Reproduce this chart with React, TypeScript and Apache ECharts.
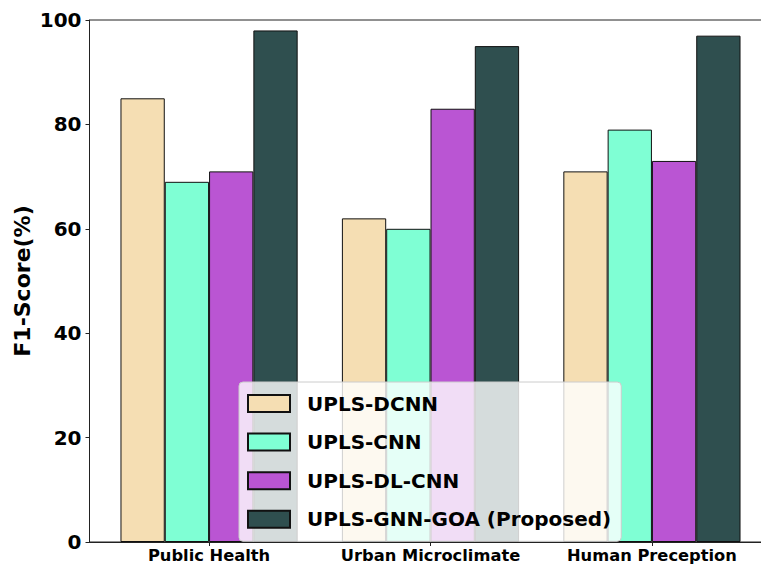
import React, { useEffect, useRef } from "react";
import * as echarts from "echarts";

const categories = ["Public Health", "Urban Microclimate", "Human Preception"];
const seriesNames = ["UPLS-DCNN", "UPLS-CNN", "UPLS-DL-CNN", "UPLS-GNN-GOA (Proposed)"];
const dcnn = [85, 62, 71];
const cnn = [69, 60, 79];
const dlcnn = [71, 83, 73];
const gnnGoa = [98, 95, 97];
const colors = ["#F5DEB3", "#7FFFD4", "#BA55D3", "#2F4F4F"];
const yTicks = [0, 20, 40, 60, 80, 100];

const FONT = "DejaVu Sans";

export default function App() {
  const ref = useRef<HTMLDivElement>(null);
  useEffect(() => {
    if (!ref.current) return;
    const chart = echarts.init(ref.current, undefined, { renderer: "svg" });
    const allValues = [dcnn, cnn, dlcnn, gnnGoa];
    const series = allValues.map((vals, i) => ({
      name: seriesNames[i],
      type: "bar",
      data: vals.map((v, j) => [j, v]),
      barWidth: 44.3,
      barGap: "0%",
      itemStyle: { color: colors[i], borderColor: "#111", borderWidth: 1 },
    }));
    chart.setOption({
      animation: false,
      grid: {
        left: 89.5,
        top: 20,
        bottom: 27,
        width: 682,
        show: true,
        borderColor: "#222",
        borderWidth: 1,
        backgroundColor: "transparent",
        containLabel: false,
        outerBoundsMode: "none",
      },
      xAxis: {
        type: "value",
        min: -0.54,
        max: 2.54,
        splitLine: { show: false },
        axisLine: { show: true, onZero: false, lineStyle: { color: "#222", width: 1 } },
        axisTick: { show: true, length: 4, customValues: [0, 1, 2], lineStyle: { color: "#222" } },
        axisLabel: {
          customValues: [0, 1, 2],
          formatter: (v: number) => categories[Math.round(v)] ?? "",
          fontFamily: FONT,
          fontWeight: "bold",
          fontSize: 16.3,
          color: "#000",
          margin: 5,
        },
      },
      yAxis: {
        type: "value",
        min: yTicks[0],
        max: yTicks[yTicks.length - 1],
        interval: 20,
        splitLine: { show: false },
        axisLine: { show: true, onZero: false, lineStyle: { color: "#222", width: 1 } },
        axisTick: { show: true, length: 4, lineStyle: { color: "#222" } },
        axisLabel: {
          fontFamily: FONT,
          fontWeight: "bold",
          fontSize: 20,
          color: "#000",
          margin: 8,
        },
        name: "F1-Score(%)",
        nameLocation: "middle",
        nameRotate: 90,
        nameGap: 56,
        nameMoveOverlap: false,
        nameTextStyle: {
          fontFamily: FONT,
          fontWeight: "bold",
          fontSize: 22,
          color: "#000",
        },
      },
      legend: {
        orient: "vertical",
        left: 239,
        top: 382,
        data: seriesNames,
        icon: "rect",
        itemWidth: 42,
        itemHeight: 17,
        itemGap: 18.6,
        padding: [11.5, 10, 12, 8],
        backgroundColor: "rgba(255,255,255,0.8)",
        borderColor: "#cccccc",
        borderWidth: 1,
        borderRadius: 4,
        textStyle: {
          fontFamily: FONT,
          fontWeight: "bold",
          fontSize: 20,
          lineHeight: 17,
          color: "#000",
          padding: [0, 0, 0, 12],
        },
      },
      series,
    });
    return () => chart.dispose();
  }, []);
  return (
    <div
      ref={ref}
      style={{ position: "fixed", left: 0, top: 0, width: 761, height: 569, background: "#fff" }}
    />
  );
}
